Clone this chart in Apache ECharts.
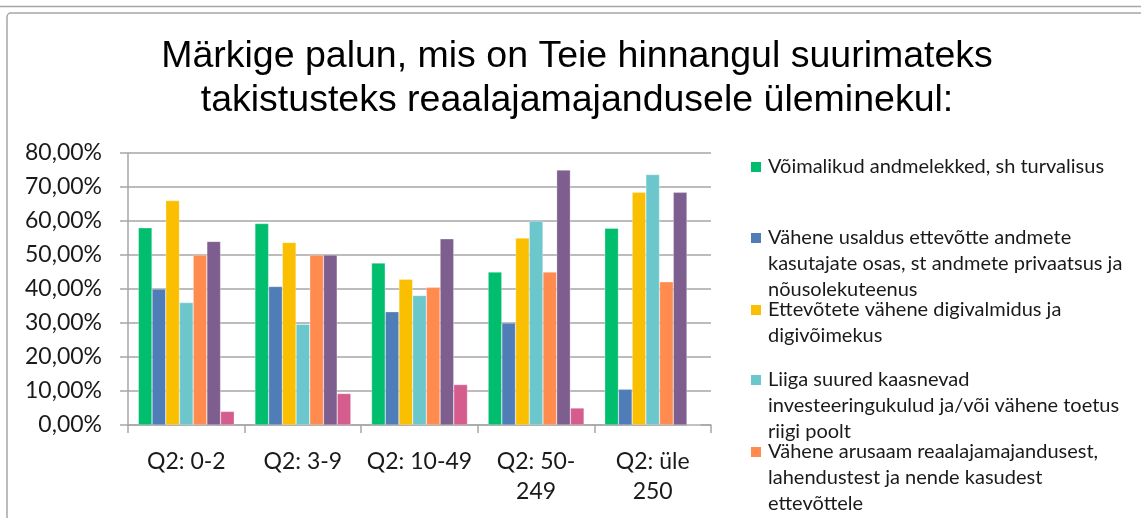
<!DOCTYPE html>
<html lang="et">
<head>
<meta charset="utf-8">
<title>Takistused reaalajamajandusele üleminekul</title>
<script src="https://cdn.jsdelivr.net/npm/echarts@6.0.0/dist/echarts.min.js"></script>
<style>
    html, body { margin: 0; padding: 0; background: #fff; }
    #chart { width: 1141px; height: 518px; }
</style>
</head>
<body>
<div id="chart"></div>
<script>
// ettevõtte suurusgrupid
const categories = [ 'Q2: 0-2', 'Q2: 3-9', 'Q2: 10-49', 'Q2: 50-\n249', 'Q2: üle\n250' ];

// vastuste osakaal, %
const andmelekked = [ 58.00, 59.26, 47.62, 45.00, 57.89 ];
const usaldus = [ 40.00, 40.74, 33.33, 30.00, 10.53 ];
const digivalmidus = [ 66.00, 53.70, 42.86, 55.00, 68.42 ];
const investeeringud = [ 36.00, 29.63, 38.10, 60.00, 73.68 ];
const arusaam = [ 50.00, 50.00, 40.48, 45.00, 42.11 ];
const muudTakistused = [ 54.00, 50.00, 54.76, 75.00, 68.42 ];
const muu = [ 4.00, 9.26, 11.90, 5.00, 0 ];

const yTicks = [ 0, 10, 20, 30, 40, 50, 60, 70, 80 ];

const seriesNames = [
    'Võimalikud andmelekked, sh turvalisus',
    'Vähene usaldus ettevõtte andmete\nkasutajate osas, st andmete privaatsus ja\nnõusolekuteenus',
    'Ettevõtete vähene digivalmidus ja\ndigivõimekus',
    'Liiga suured kaasnevad\ninvesteeringukulud ja/või vähene toetus\nriigi poolt',
    'Vähene arusaam reaalajamajandusest,\nlahendustest ja nende kasudest\nettevõttele',
    'Muud takistused',
    'Muu'
];
const seriesData = [ andmelekked, usaldus, digivalmidus, investeeringud, arusaam, muudTakistused, muu ];
const colors = [ '#00BE6E', '#4F7DB7', '#F9BF00', '#6CC7CC', '#FF8B4E', '#7D5E8F', '#D45D8E' ];

const FONT = 'Lato, "Noto Sans", sans-serif';

// legend items start every ~71px, marker sits on the first line
const legendTops = [ 154, 225, 297, 367, 439, 510, 581 ];

function legendFor( i ) {
    const rich = {
        m: { width: 10, height: 10, backgroundColor: colors[i] },
        g: { width: 7 },
        s: { width: 17 },
        t: { fontFamily: FONT, fontSize: 20, lineHeight: 26, color: '#1a1a1a' }
    };
    return {
        show: true,
        orient: 'vertical',
        left: 746,
        top: legendTops[i],
        padding: 0,
        icon: 'none',
        itemWidth: 0,
        itemHeight: 10,
        selectedMode: false,
        data: [ seriesNames[i] ],
        formatter: name => name.split( '\n' )
            .map( ( line, k ) => ( k === 0 ? '{m|}{g|}' : '{s|}' ) + '{t|' + line + '}' )
            .join( '\n' ),
        textStyle: { rich: rich, lineHeight: 26 }
    };
}

const chart = echarts.init( document.getElementById( 'chart' ), null, { renderer: 'canvas' } );

const option = {
    backgroundColor: '#fff',
    animation: false,
    title: {
        text: 'Märkige palun, mis on Teie hinnangul suurimateks\ntakistusteks reaalajamajandusele üleminekul:',
        left: 577,
        top: 35,
        padding: 0,
        textAlign: 'center',
        textStyle: {
            fontFamily: '"Liberation Sans", Arial, sans-serif',
            fontWeight: 'normal',
            fontSize: 37.5,
            lineHeight: 44,
            color: '#000'
        }
    },
    graphic: [
        { type: 'line', shape: { x1: 0, y1: 6.5, x2: 1141, y2: 6.5 }, style: { stroke: '#a6a6a6', lineWidth: 1.5 } },
        { type: 'rect', shape: { x: 7, y: 13, width: 1160, height: 540, r: 4 }, style: { fill: 'none', stroke: '#a6a6a6', lineWidth: 1.5 } }
    ],
    legend: seriesNames.slice( 0, 5 ).map( ( n, i ) => legendFor( i ) ),
    grid: { left: 128, right: 430, top: 153, bottom: 93, containLabel: false },
    xAxis: {
        type: 'category',
        data: categories,
        axisLine: { lineStyle: { color: '#a6a6a6', width: 1.5 } },
        axisTick: { show: true, length: 8, lineStyle: { color: '#a6a6a6', width: 1.5 } },
        axisLabel: {
            interval: 0,
            margin: 22,
            fontFamily: FONT,
            fontSize: 23,
            lineHeight: 30,
            color: '#1a1a1a'
        }
    },
    yAxis: {
        type: 'value',
        min: yTicks[0],
        max: yTicks[yTicks.length - 1],
        interval: yTicks[1] - yTicks[0],
        axisLine: { show: true, lineStyle: { color: '#a6a6a6', width: 1.5 } },
        axisTick: { show: true, length: 8, lineStyle: { color: '#a6a6a6', width: 1.5 } },
        splitLine: { lineStyle: { color: '#a6a6a6', width: 1.5 } },
        axisLabel: {
            margin: 26,
            fontFamily: FONT,
            fontSize: 23,
            color: '#1a1a1a',
            formatter: v => v.toFixed( 2 ).replace( '.', ',' ) + '%'
        }
    },
    series: seriesNames.map( ( name, i ) => ( {
        name: name,
        type: 'bar',
        data: seriesData[i],
        barGap: 0,
        barCategoryGap: '17.7%',
        itemStyle: { color: colors[i], borderColor: 'rgba(255,255,255,0.6)', borderWidth: 0.5 }
    } ) )
};

chart.setOption( option );
</script>
</body>
</html>
